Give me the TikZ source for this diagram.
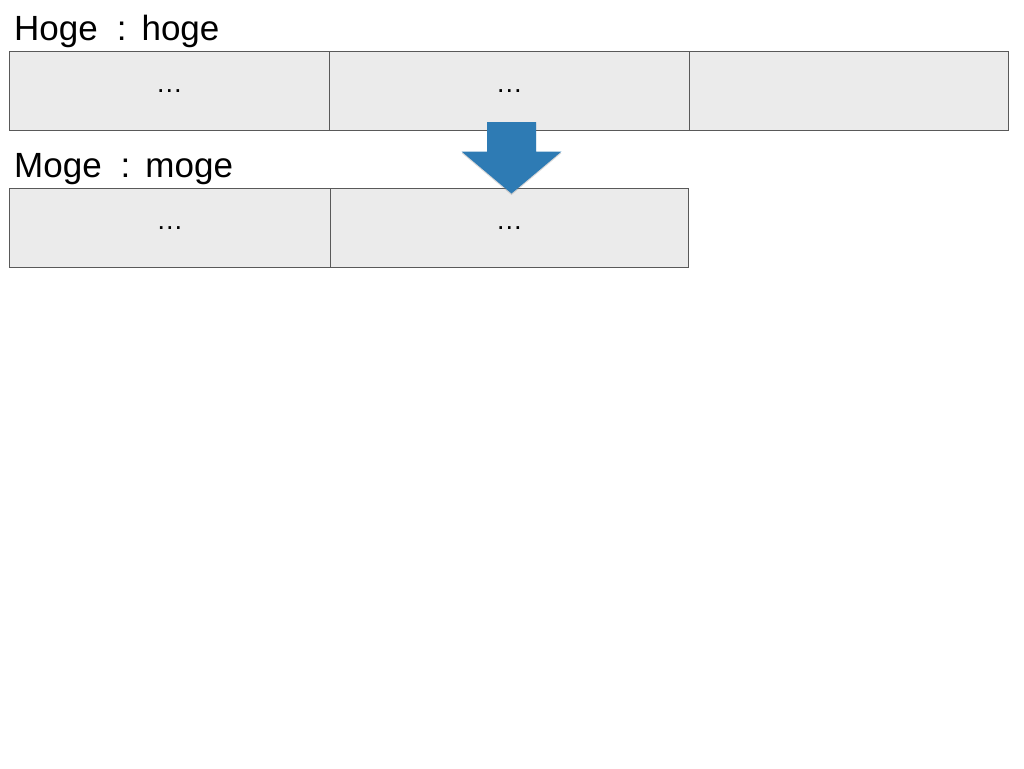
\documentclass[tikz,border=0pt]{standalone}
\usepackage{fontspec}
\setmainfont{Liberation Sans}
\usetikzlibrary{shadows}
\definecolor{arrowblue}{RGB}{46,123,180}
\definecolor{cellgray}{RGB}{235,235,235}
\newcommand{\sepcolon}{\hspace{19pt}:\hspace{15pt}}
\tikzset{
  cell/.style={draw=black!65, fill=cellgray, line width=0.8pt, anchor=north west,
    minimum height=79pt, inner sep=0pt, font=\fontsize{27}{27}\selectfont},
  title/.style={anchor=base west, inner sep=0pt, font=\fontsize{35}{35}\selectfont}
}
\begin{document}
\begin{tikzpicture}[x=1pt,y=-1pt]
  \fill[white] (0,0) rectangle (1024,768);

  % upper row
  \node[title] (hogetitle) at (14,41) {Hoge\sepcolon hoge};
  \node[cell, minimum width=320pt] (hoge1) at (9,51) {…};
  \node[cell, minimum width=360pt] (hoge2) at (329,51) {…};
  \node[cell, minimum width=319pt] (hoge3) at (689,51) {};

  % lower row
  \node[title] (mogetitle) at (14,177) {Moge\sepcolon moge};
  \node[cell, minimum width=321pt] (moge1) at (9,188) {…};
  \node[cell, minimum width=358pt] (moge2) at (330,188) {…};

  % arrow
  \fill[arrowblue, drop shadow={opacity=0.3, shadow xshift=0pt, shadow yshift=-1.5pt}]
    (487,122)--(536,122)--(536,151.5)--(561.5,151.5)--(511.5,193.5)--(461.5,151.5)--(487,151.5)--cycle;
\end{tikzpicture}
\end{document}
